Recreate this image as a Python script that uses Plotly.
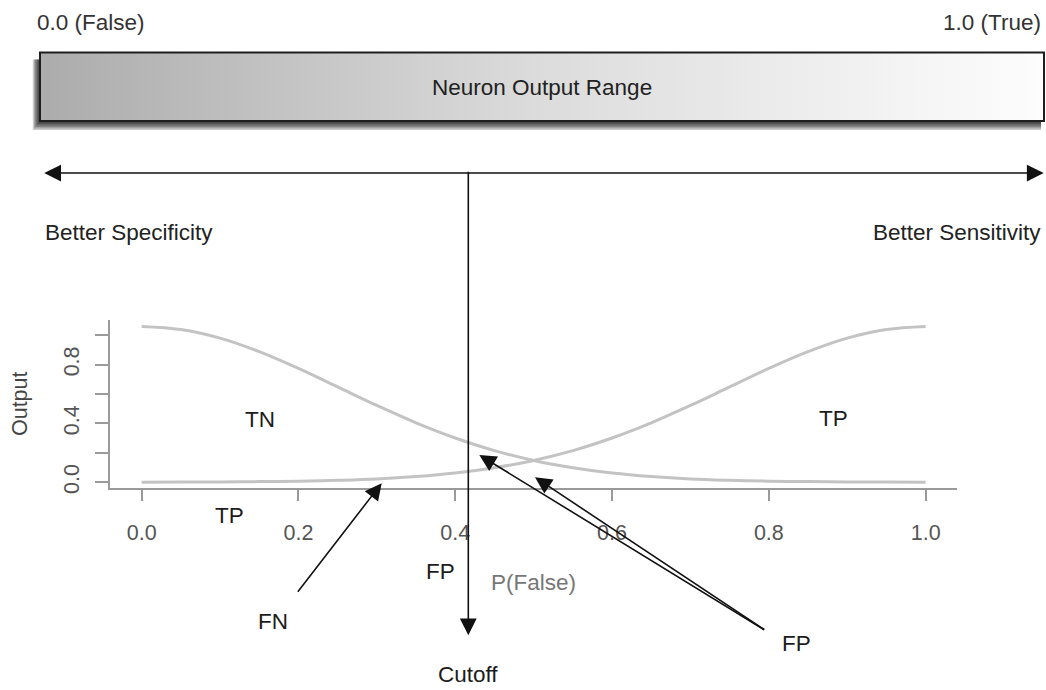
import plotly.graph_objects as go

W, H = 1046, 690

# ---- data ----
x_vals = [0.00, 0.05, 0.10, 0.15, 0.20, 0.25, 0.30, 0.35, 0.40, 0.45, 0.50,
          0.55, 0.60, 0.65, 0.70, 0.75, 0.80, 0.85, 0.90, 0.95, 1.00]
p_false = [1.06, 1.039, 0.980, 0.888, 0.774, 0.648, 0.522, 0.404, 0.301, 0.215, 0.148,
           0.098, 0.062, 0.038, 0.022, 0.013, 0.007, 0.004, 0.002, 0.001, 0.0]
p_true = [0.0, 0.001, 0.002, 0.004, 0.007, 0.013, 0.022, 0.038, 0.062, 0.098, 0.148,
          0.215, 0.301, 0.404, 0.522, 0.648, 0.774, 0.888, 0.980, 1.039, 1.06]
x_ticks = [0.0, 0.2, 0.4, 0.6, 0.8, 1.0]
x_tick_labels = ["0.0", "0.2", "0.4", "0.6", "0.8", "1.0"]
y_ticks = [0.0, 0.2, 0.4, 0.6, 0.8, 1.0]
y_tick_labels = ["0.0", "", "0.4", "", "0.8", ""]

FONT = "Liberation Sans, Arial, sans-serif"
FS = 22.5
CURVE = "#c3c3c3"
AXIS = "#9a9a9a"


def px(x):
    return x / W


def py(y):
    return 1 - y / H


fig = go.Figure()

# curves in the lower plot
fig.add_trace(go.Scatter(x=x_vals, y=p_false, mode="lines", line=dict(color=CURVE, width=3, shape="spline"),
                         hoverinfo="skip", showlegend=False))
fig.add_trace(go.Scatter(x=x_vals, y=p_true, mode="lines", line=dict(color=CURVE, width=3, shape="spline"),
                         hoverinfo="skip", showlegend=False))

# gradient bar (separate full-page pixel axes)
bx0, bx1, by0, by1 = 40, 1044, 53, 122
fig.add_trace(go.Scatter(x=[bx0, bx1, bx1, bx0, bx0], y=[by0, by0, by1, by1, by0],
                         xaxis="x2", yaxis="y2", mode="lines", line=dict(width=0),
                         fill="toself",
                         fillgradient=dict(type="horizontal",
                                           colorscale=[[0, "#acacac"], [0.5, "#dcdcdc"], [1, "#fdfdfd"]]),
                         hoverinfo="skip", showlegend=False))

shapes = []
# drop shadow
for d in [1.5, 3, 4.5, 6, 7.5, 9]:
    shapes.append(dict(type="rect", xref="paper", yref="paper", layer="below",
                       x0=px(bx0 - d * 0.8), x1=px(bx1 - 3), y0=py(by0 + 7), y1=py(by1 + d),
                       line=dict(width=0), fillcolor="rgba(0,0,0,0.2)"))
# bar border
shapes.append(dict(type="rect", xref="paper", yref="paper", layer="above",
                   x0=px(bx0), x1=px(bx1), y0=py(by0), y1=py(by1),
                   line=dict(color="#1e1e1e", width=2), fillcolor="rgba(0,0,0,0)"))

ann = []


def text(t, x, y, xanchor="center", color="#1c1c1c", size=FS):
    ann.append(dict(text=t, x=px(x), y=py(y), xref="paper", yref="paper", showarrow=False,
                    xanchor=xanchor, yanchor="middle", font=dict(family=FONT, size=size, color=color)))


def arrow(hx, hy, tx, ty, both=False):
    ann.append(dict(text="", x=px(hx), y=py(hy), xref="paper", yref="paper", showarrow=True,
                    ax=tx - hx, ay=ty - hy, axref="pixel", ayref="pixel",
                    arrowhead=2, arrowsize=2.1, arrowwidth=1.6, arrowcolor="#111111",
                    arrowside="end+start" if both else "end", standoff=0, startstandoff=0,
                    startarrowhead=2, startarrowsize=2.1))


text("0.0 (False)", 35, 23, "left", "#333333")
text("1.0 (True)", 1043, 23, "right", "#333333")
text("Neuron Output Range", 542, 88, "center", "#222222")
text("Better Specificity", 43, 234, "left", "#222222")
text("Better Sensitivity", 1043, 234, "right", "#222222")
text("TN", 260, 423)
text("TP", 833, 422)
text("TP", 229, 519)
text("FP", 440, 576)
text("P(False)", 533, 587, color="#777777")
text("FN", 273, 626)
text("FP", 796, 648)
text("Cutoff", 468, 679)
ann.append(dict(text="Output", x=px(20), y=py(407), xref="paper", yref="paper", showarrow=False,
                textangle=-90, xanchor="center", yanchor="middle",
                font=dict(family=FONT, size=FS - 1, color="#444444")))

arrow(1043.7, 174.3, 42.7, 174.3, both=True)
arrow(468.3, 640, 468.3, 175)
arrow(381.7, 486.7, 296.7, 596.7)
arrow(479.3, 458.3, 765.7, 634)
arrow(535, 480.7, 765.7, 634)

fig.update_layout(
    width=W, height=H, autosize=False,
    margin=dict(l=0, r=0, t=0, b=0, pad=0),
    paper_bgcolor="white", plot_bgcolor="rgba(0,0,0,0)",
    showlegend=False,
    shapes=shapes, annotations=ann,
    xaxis=dict(domain=[px(110.3), px(957)], range=[-0.04, 1.04], anchor="y",
               showline=True, linecolor=AXIS, linewidth=2, showgrid=False, zeroline=False,
               ticks="outside", ticklen=11, tickwidth=2, tickcolor=AXIS,
               tickvals=x_ticks, ticktext=x_tick_labels, ticklabelstandoff=13,
               tickfont=dict(family=FONT, size=FS - 1, color="#555555"), fixedrange=True),
    yaxis=dict(domain=[py(492), py(322.5)], range=[-0.0424, 1.1024], anchor="x",
               showline=True, linecolor=AXIS, linewidth=2, showgrid=False, zeroline=False,
               ticks="outside", ticklen=13, tickwidth=2, tickcolor=AXIS,
               tickvals=y_ticks, ticktext=y_tick_labels, tickangle=-90, ticklabelstandoff=8,
               tickfont=dict(family=FONT, size=FS - 1, color="#555555"), fixedrange=True),
    xaxis2=dict(domain=[0, 1], range=[0, W], visible=False, fixedrange=True, anchor="y2"),
    yaxis2=dict(domain=[0, 1], range=[H, 0], visible=False, fixedrange=True, anchor="x2"),
)

fig.write_html("out.html", config={"displayModeBar": False, "staticPlot": True},
               post_script="document.body.style.margin='0px';")
